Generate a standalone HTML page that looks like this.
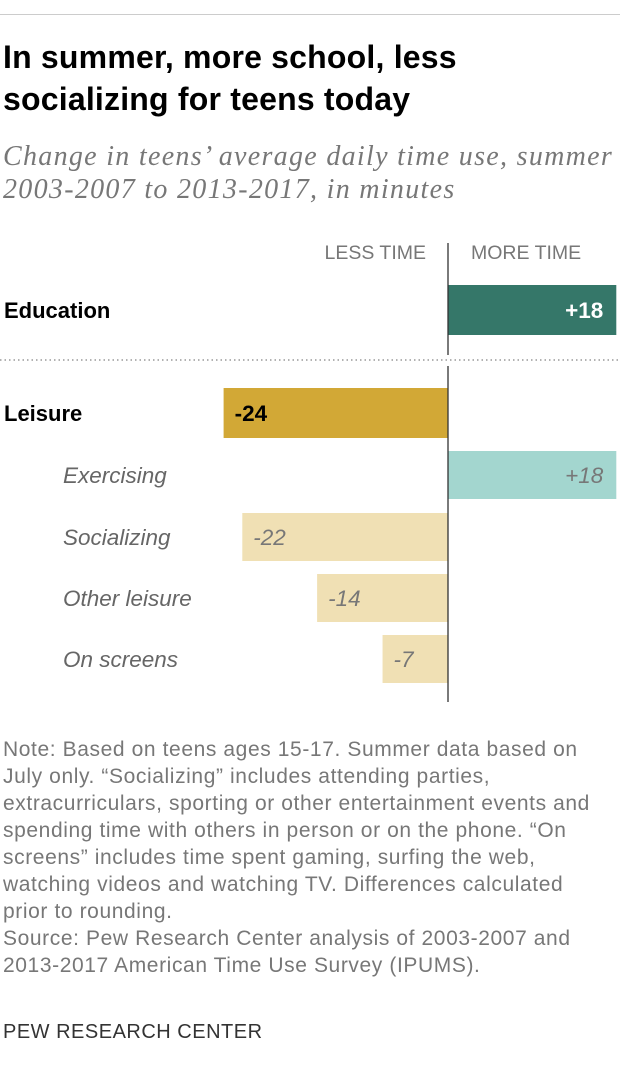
<!DOCTYPE html>
<html><head><meta charset="utf-8"><style>
body{margin:0;width:620px;height:1086px;background:#fff;position:relative;overflow:hidden;font-family:"Liberation Sans",sans-serif}
.a{position:absolute;white-space:nowrap}
</style></head><body>
<div class="a" style="left:0;top:14px;width:620px;height:1px;background:#ccc"></div>
<div class="a" style="left:3px;top:36px;font-size:32px;font-weight:bold;line-height:42px;color:#000;letter-spacing:0.2px">In summer, more school, less<br>socializing for teens today</div>
<div class="a" style="left:3px;top:140px;font-family:'Liberation Serif',serif;font-style:italic;font-size:28px;line-height:33px;color:#777;letter-spacing:1.3px">Change in teens’ average daily time use, summer<br>2003-2007 to 2013-2017, in minutes</div>
<svg class="a" style="left:0;top:0" width="620" height="720">
<g id="g"></g>
</svg>
<div class="a" style="left:3px;top:736px;font-size:21px;line-height:27px;color:#777;letter-spacing:0.6px">Note: Based on teens ages 15-17. Summer data based on<br>July only. “Socializing” includes attending parties,<br>extracurriculars, sporting or other entertainment events and<br>spending time with others in person or on the phone. “On<br>screens” includes time spent gaming, surfing the web,<br>watching videos and watching TV. Differences calculated<br>prior to rounding.<br>Source: Pew Research Center analysis of 2003-2007 and<br>2013-2017 American Time Use Survey (IPUMS).</div>
<div class="a" style="left:3px;top:1021px;font-size:20px;color:#333;letter-spacing:0.5px">PEW RESEARCH CENTER</div>
<script>
const categories=["Education","Leisure","Exercising","Socializing","Other leisure","On screens"];
const values=[18,-24,18,-22,-14,-7];
const labels=["+18","-24","+18","-22","-14","-7"];
const ns="http://www.w3.org/2000/svg",g=document.getElementById('g');
const x0=448,scale=9.35;const x=v=>x0+v*scale;
const tops=[285,388,451,513,574,635],bh=[50,50,48,48,48,48];
const fills=["#357769","#d2a836","#a3d6cf","#f0e0b4","#f0e0b4","#f0e0b4"];
function el(t,o,txt){const e=document.createElementNS(ns,t);for(const k in o)e.setAttribute(k,o[k]);if(txt!=null)e.textContent=txt;g.appendChild(e);return e;}
let t=el('text',{x:426,y:259,'text-anchor':'end','font-size':19.5,fill:'#777','font-family':'Liberation Sans'},'LESS TIME');

t=el('text',{x:471,y:259,'font-size':19.5,fill:'#777','font-family':'Liberation Sans'},'MORE TIME');

categories.forEach((c,i)=>{
  const v=values[i],top=tops[i],h=bh[i],main=i<2;
  const r=el('rect',{x:Math.min(x(0),x(v)),y:top,width:Math.abs(x(v)-x(0)),height:h,fill:fills[i]});
  
  
  const cy=top+h/2+8;
  const l=el('text',{x:main?4:63,y:cy,'font-size':main?22:22.5,'font-weight':main?'bold':'normal','font-style':main?'normal':'italic',fill:main?'#000':'#666','font-family':'Liberation Sans'},c);
  
  
  const vx=v>0?x(v)-13:x(v)+11;
  const vl=el('text',{x:vx,y:cy,'text-anchor':v>0?'end':'start','font-size':22.5,'font-weight':main?'bold':'normal','font-style':main?'normal':'italic',fill:i==0?'#fff':(main?'#000':'#777'),'font-family':'Liberation Sans'},labels[i]);
  
  
});
let ln=el('line',{x1:x0,x2:x0,y1:243,y2:355,stroke:'#333','stroke-width':1.3});

ln=el('line',{x1:x0,x2:x0,y1:366,y2:702,stroke:'#333','stroke-width':1.3});

ln=el('line',{x1:0,x2:620,y1:360,y2:360,stroke:'#999','stroke-width':1.5,'stroke-dasharray':'1.5,3'});

</script>
</body></html>
